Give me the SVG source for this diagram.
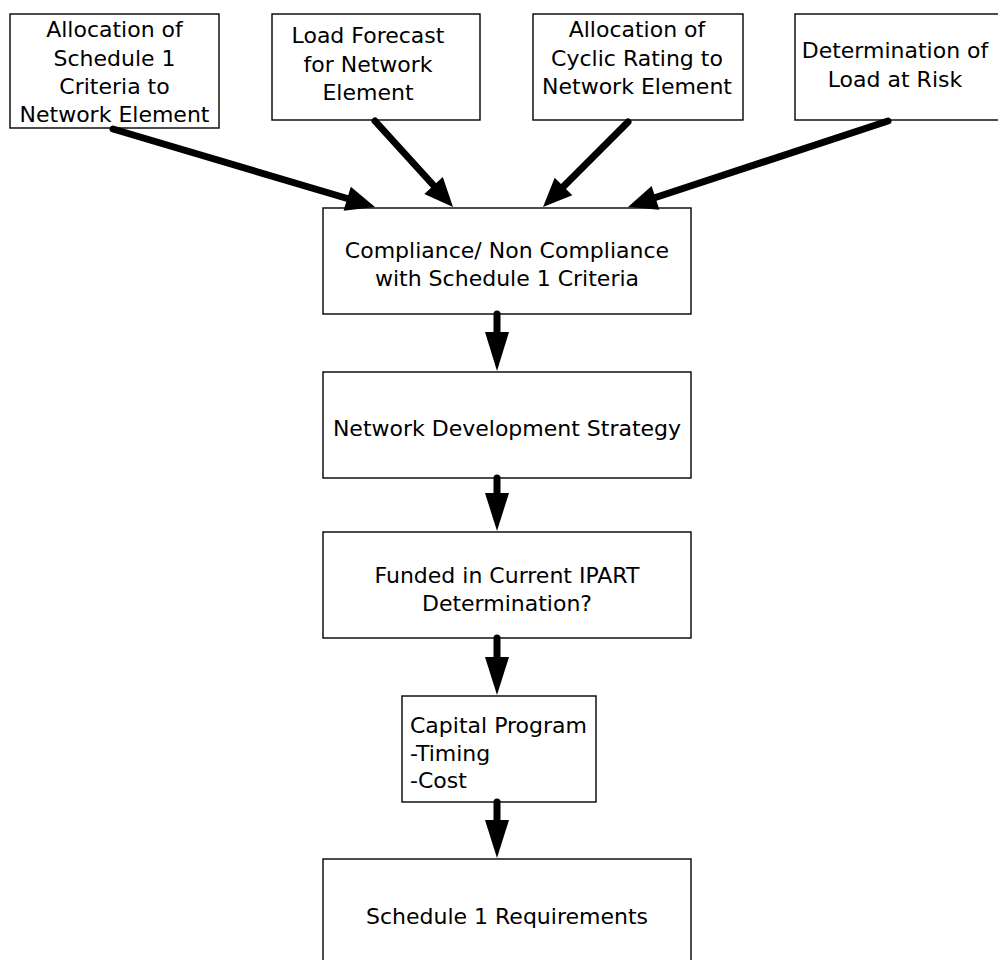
<svg xmlns="http://www.w3.org/2000/svg" width="998" height="960" viewBox="0 0 998 960">
<style>
.box{fill:#fff;stroke:#000;stroke-width:1.4}
.t{font-family:"DejaVu Sans",Verdana,sans-serif;font-size:22px;fill:#000;text-anchor:middle}
.l{text-anchor:start}
.c{stroke:#000;stroke-width:7;stroke-linecap:round;fill:none}
.h{fill:#000;stroke:none}
</style>
<rect width="998" height="960" fill="#fff"/>
<g id="n1"><rect class="box" x="10" y="14" width="209" height="114"/>
<text class="t" x="114.5" y="37">Allocation of</text><text class="t" x="114.5" y="65.5">Schedule 1</text><text class="t" x="114.5" y="94">Criteria to</text><text class="t" x="114.5" y="122">Network Element</text></g>
<g id="n2"><rect class="box" x="272" y="14" width="208" height="106"/>
<text class="t" x="368" y="43">Load Forecast</text><text class="t" x="368" y="71.5">for Network</text><text class="t" x="368" y="100">Element</text></g>
<g id="n3"><rect class="box" x="533" y="14" width="210" height="106"/>
<text class="t" x="637" y="37">Allocation of</text><text class="t" x="637" y="65.5">Cyclic Rating to</text><text class="t" x="637" y="94">Network Element</text></g>
<g id="n4"><rect class="box" x="795" y="14" width="212" height="106"/>
<text class="t" x="895" y="58">Determination of</text><text class="t" x="895" y="86.5">Load at Risk</text></g>
<g id="n5"><rect class="box" x="323" y="208" width="368" height="106"/>
<text class="t" x="507" y="258">Compliance/ Non Compliance</text><text class="t" x="507" y="286">with Schedule 1 Criteria</text></g>
<g id="n6"><rect class="box" x="323" y="372" width="368" height="106"/>
<text class="t" x="507" y="436">Network Development Strategy</text></g>
<g id="n7"><rect class="box" x="323" y="532" width="368" height="106"/>
<text class="t" x="507" y="583">Funded in Current IPART</text><text class="t" x="507" y="611">Determination?</text></g>
<g id="n8"><rect class="box" x="402" y="696" width="194" height="106"/>
<text class="t l" x="410" y="733">Capital Program</text><text class="t l" x="410" y="761">-Timing</text><text class="t l" x="410" y="788">-Cost</text></g>
<g id="n9"><rect class="box" x="323" y="859" width="368" height="110"/>
<text class="t" x="507" y="924">Schedule 1 Requirements</text></g>
<g id="connectors">
<line class="c" x1="113" y1="129" x2="349" y2="199"/><polygon class="h" points="375,207 343.6,210.7 350.8,186.7"/>
<line class="c" x1="375" y1="121" x2="435" y2="187"/><polygon class="h" points="453,207 424.3,193.9 442.8,177.1"/>
<line class="c" x1="628" y1="122" x2="562" y2="188"/><polygon class="h" points="543,207 554.7,177.7 572.3,195.3"/>
<line class="c" x1="888" y1="121" x2="654" y2="198"/><polygon class="h" points="628,207 651.6,186 659.4,209.8"/>
<line class="c" x1="497" y1="314" x2="497" y2="334"/><polygon class="h" points="485,332 509,332 497,371"/>
<line class="c" x1="497" y1="478" x2="497" y2="495"/><polygon class="h" points="485,493 509,493 497,531"/>
<line class="c" x1="497" y1="638" x2="497" y2="659"/><polygon class="h" points="485,657 509,657 497,695"/>
<line class="c" x1="497" y1="802" x2="497" y2="822"/><polygon class="h" points="485,820 509,820 497,858"/>
</g>
</svg>
